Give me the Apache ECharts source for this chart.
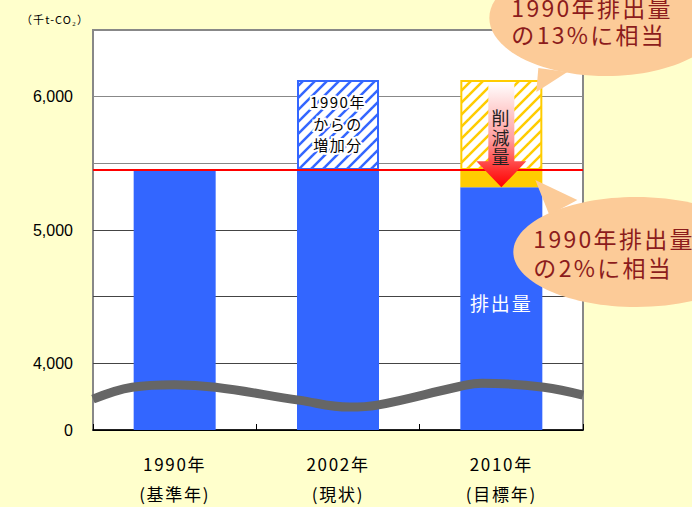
<!DOCTYPE html>
<html><head><meta charset="utf-8">
<script src="https://cdn.jsdelivr.net/npm/echarts@6/dist/echarts.min.js"></script>
<style>
html,body{margin:0;padding:0;background:#FFFFCC;}
#c{width:692px;height:507px;}
#c svg text[style*="Noto"], #c svg text[font-family*="Noto"]{letter-spacing:0.1em;}
</style></head><body><div id="c"></div>
<script>
// ---- data ----
const categories = ['1990年\n(基準年)', '2002年\n(現状)', '2010年\n(目標年)'];
const emissions = [5450, 5450, 5320];          // 排出量 (blue)
const reductionWithin1990 = ['-', '-', 130];    // 2% of 1990 (solid yellow)
const increaseFrom1990 = ['-', 675, '-'];       // 1990年からの増加分 (blue hatch)
const reductionTarget = ['-', '-', 675];        // 13% reduction (yellow hatch)
const baseline1990 = 5455;                      // red line
const yTickLabels = {3500: '0', 4000: '4,000', 5000: '5,000', 6000: '6,000'};
const waveX = [0, 0.24, 0.5, 0.75, 1.26, 1.57, 1.74, 2.25, 2.38, 2.76, 3];
const waveY = [3731, 3821, 3840, 3821, 3724, 3672, 3687, 3828, 3851, 3821, 3761];

const CJK = '"Noto Sans CJK JP"';

function hatch(color, lw) {
  const s = 12, cv = document.createElement('canvas');
  cv.width = s; cv.height = s;
  const g = cv.getContext('2d');
  g.fillStyle = '#fff'; g.fillRect(0, 0, s, s);
  g.strokeStyle = color; g.lineWidth = lw;
  for (const o of [-s, 0, s]) {
    g.beginPath(); g.moveTo(o - 1, s + 1); g.lineTo(o + s + 1, -1); g.stroke();
  }
  return {image: cv, repeat: 'repeat'};
}

const chart = echarts.init(document.getElementById('c'), null, {renderer: 'svg'});
const BW = 82;
chart.setOption({
  animation: false,
  backgroundColor: '#FFFFCC',
  title: {text: '（千t-CO₂）', left: 16, top: 8,
    textStyle: {fontSize: 11, fontWeight: 'normal', color: '#000', fontFamily: CJK}},
  grid: {left: 93, right: 109, top: 30, bottom: 77, show: true,
    backgroundColor: '#fff', borderColor: '#888', borderWidth: 2, outerBoundsMode: 'none'},
  xAxis: [{
    type: 'category', data: categories,
    axisLine: {lineStyle: {color: '#000', width: 1.5}},
    axisTick: {show: true, inside: true, length: 6, lineStyle: {color: '#000'}},
    axisLabel: {fontSize: 17, lineHeight: 30, margin: 18, color: '#000', fontFamily: CJK},
    splitLine: {show: false}
  }, {
    type: 'value', min: 0, max: 3, show: false
  }],
  yAxis: {
    type: 'value', min: 3500, max: 6500, interval: 500,
    axisLine: {show: false}, axisTick: {show: false},
    axisLabel: {formatter: v => yTickLabels[v] || '', fontSize: 16, margin: 20,
      color: '#000', fontFamily: 'Arial'},
    splitLine: {lineStyle: {color: ['#000', '#444', '#444', '#444', '#888', '#888', '#888'], width: 1}}
  },
  series: [
    {type: 'bar', stack: 'a', barWidth: BW, data: emissions,
      itemStyle: {color: '#3366FF'}, z: 2},
    {type: 'bar', stack: 'a', barWidth: BW, data: reductionWithin1990,
      itemStyle: {color: '#FFCC00'}, z: 2},
    {type: 'bar', stack: 'a', barWidth: BW, data: increaseFrom1990,
      itemStyle: {color: hatch('#3366FF', 2.5), borderColor: '#3366FF', borderWidth: 2}, z: 2},
    {type: 'bar', stack: 'a', barWidth: BW, data: reductionTarget,
      itemStyle: {color: hatch('#FFCC00', 2.5), borderColor: '#FFCC00', borderWidth: 2}, z: 2},
    {type: 'line', xAxisIndex: 1, smooth: 0.4, symbol: 'none', z: 4,
      data: waveX.map((x, i) => [x, waveY[i]]),
      lineStyle: {color: '#666', width: 9},
      markLine: {silent: true, symbol: ['none', 'none'], label: {show: false},
        lineStyle: {color: '#FF0000', width: 2, type: 'solid'},
        data: [{yAxis: baseline1990}]}}
  ]
});

// ---- annotations anchored on data positions ----
const px = (c, v) => chart.convertToPixel({xAxisIndex: 0, yAxisIndex: 0}, [c, v]);
const top2010 = px(2, emissions[2] + reductionWithin1990[2] + reductionTarget[2]);
const blue2010 = px(2, emissions[2]);
const base2010 = px(2, emissions[2] + reductionWithin1990[2]);
const top2002 = px(1, emissions[1] + increaseFrom1990[1]);
const base2002 = px(1, emissions[1]);
const cx = top2010[0];
const tip = blue2010[1], aTop = top2010[1] + 2, hTop = tip - 26;
const peach = '#FCCB98', darkRed = '#8C1C1C';

chart.setOption({graphic: [
  // arrow
  {type: 'polygon', z: 10, shape: {points: [[cx - 13, aTop], [cx + 13, aTop], [cx + 13, hTop], [cx + 25, hTop], [cx, tip], [cx - 25, hTop], [cx - 13, hTop]]},
    style: {fill: {type: 'linear', x: 0, y: 0, x2: 0, y2: 1, colorStops: [
      {offset: 0, color: '#FFFFFF'}, {offset: 0.55, color: '#FF9C9C'}, {offset: 0.85, color: '#FF2A2A'}, {offset: 1, color: '#FF0000'}]}}},
  {type: 'text', z: 11, style: {text: '削\n減\n量', x: cx, y: (aTop + tip) / 2 + 2, align: 'center', verticalAlign: 'middle',
    font: '18px ' + CJK, lineHeight: 19.5, fill: '#222'}},
  // bubble 1 (13%)
  {type: 'ellipse', z: 12, shape: {cx: cx + 105, cy: top2010[1] - 62, rx: 117, ry: 58}, style: {fill: peach}},
  {type: 'polygon', z: 12, shape: {points: [[cx + 37, top2010[1] - 12], [cx + 66, top2010[1] - 8], [cx + 35, top2010[1] + 12]]}, style: {fill: peach}},
  {type: 'text', z: 13, style: {text: '1990年排出量\nの13%に相当', x: cx + 10, y: top2010[1] - 60, align: 'left', verticalAlign: 'middle',
    font: '23px ' + CJK, lineHeight: 27, fill: darkRed}},
  // bubble 2 (2%)
  {type: 'ellipse', z: 12, shape: {cx: cx + 135, cy: base2010[1] + 82, rx: 123, ry: 55}, style: {fill: peach}},
  {type: 'polygon', z: 12, shape: {points: [[cx + 34, base2010[1] + 10], [cx + 76, base2010[1] + 30], [cx + 48, base2010[1] + 45]]}, style: {fill: peach}},
  {type: 'text', z: 13, style: {text: '1990年排出量\nの2%に相当', x: cx + 32, y: base2010[1] + 82, align: 'left', verticalAlign: 'middle',
    font: '23px ' + CJK, lineHeight: 29, fill: darkRed}},
  // labels in bars
  {type: 'text', z: 11, style: {text: '1990年\nからの\n増加分', x: top2002[0], y: (top2002[1] + base2002[1]) / 2 - 2, align: 'center', verticalAlign: 'middle',
    font: '15px ' + CJK, lineHeight: 21.5, fill: '#000', stroke: '#fff', lineWidth: 4}},
  {type: 'text', z: 11, style: {text: '排出量', x: cx, y: px(2, 4460)[1], align: 'center', verticalAlign: 'middle',
    font: '19px ' + CJK, fill: '#fff'}}
]});
</script></body></html>
